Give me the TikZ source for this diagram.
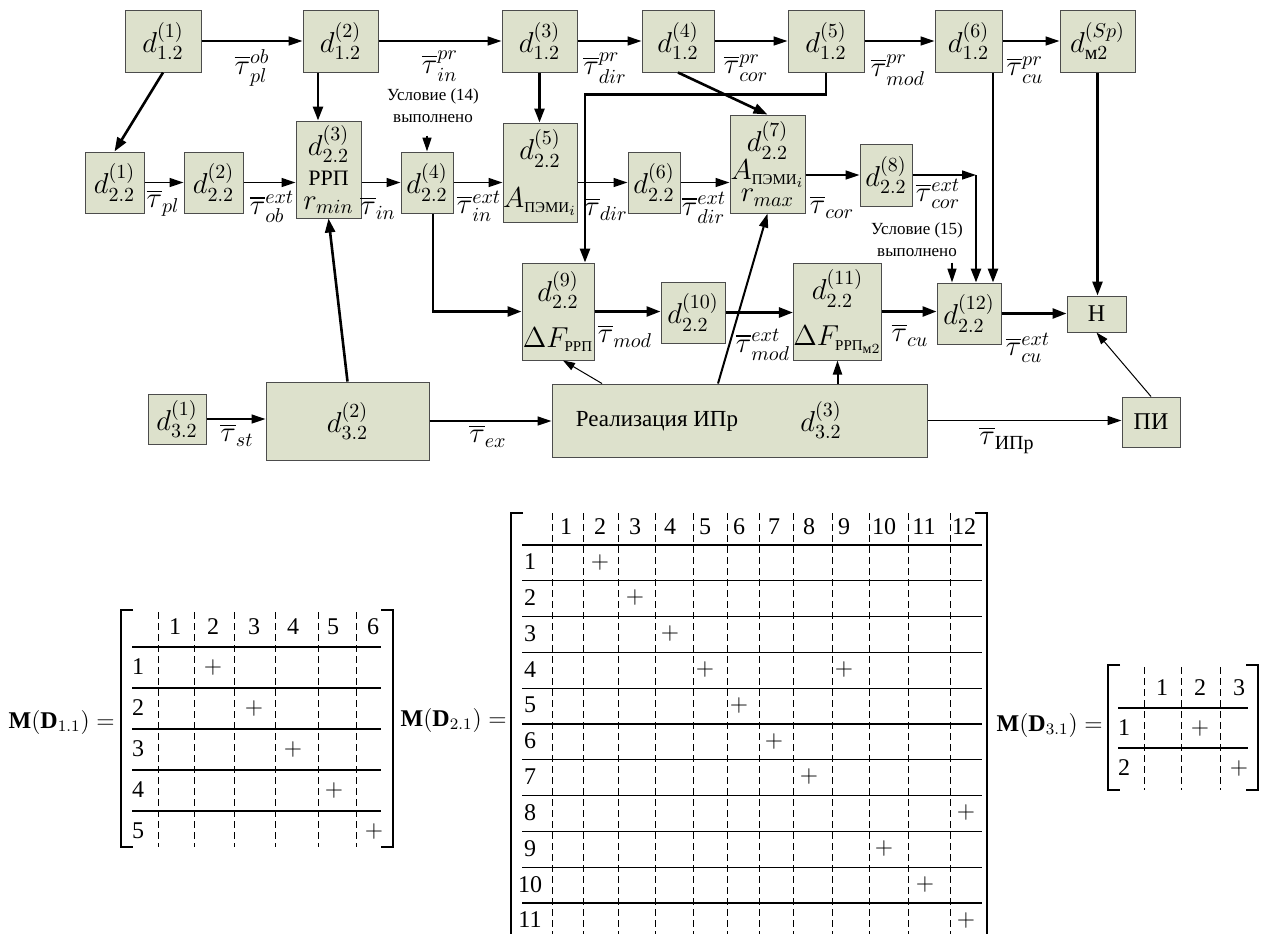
\documentclass[tikz,border=0pt]{standalone}
\usepackage{amsmath}
\usepackage{fontspec}
\setmainfont{Liberation Serif}
\usepackage{tikz}
\usetikzlibrary{%
  arrows.meta,
  positioning,
  calc}
\definecolor{boxfill}{RGB}{221,225,204}
\newcommand{\subru}[1]{\text{\fontsize{7.5}{8}\selectfont #1}}
\tikzset{
  %% Process blocks
  dbox/.style={
    rectangle, draw=black!70, fill=boxfill, line width=0.5pt,
    inner sep=0pt, align=center, font=\Large},
  %% Arc labels
  tlab/.style={font=\Large, inner sep=0pt},
  %% Plain text in blocks
  rtxt/.style={font=\fontsize{11.5}{13}\selectfont, inner sep=0pt},
  %% Condition notes
  note/.style={
    align=center, inner sep=0pt,
    font=\fontsize{8.5}{11}\selectfont},
  %% Matrix entries and names
  mnum/.style={font=\fontsize{12}{14}\selectfont, inner sep=0pt},
  mlab/.style={font=\fontsize{12}{14}\selectfont, inner sep=0pt, anchor=east},
  %% Matrix rules
  dgrid/.style={line width=0.5pt, dash pattern=on 3.5pt off 2pt},
  hgrid/.style={line width=0.6pt},
  brk/.style={line width=0.6pt},
  %% Arrows
  ptr/.style={-{Triangle[length=7pt,width=4.5pt]}, line width=0.7pt},
  bptr/.style={-{Triangle[length=7pt,width=5pt]}, line width=1.3pt},
  mptr/.style={-{Triangle[length=7pt,width=4.5pt]}, line width=1pt},
  hptr/.style={-{Triangle[length=6pt,width=4pt]}, line width=0.5pt},
}

\begin{document}
\begin{tikzpicture}[x=0.5pt, y=-0.5pt]
  \useasboundingbox (0,0) rectangle (1263,934);

  %% Level 1.2
  \node[dbox, minimum width=38pt,   minimum height=31pt] (a1)  at (163,41)    {$d_{1.2}^{(1)}$};
  \node[dbox, minimum width=37.5pt, minimum height=31pt] (a2)  at (340.5,41)  {$d_{1.2}^{(2)}$};
  \node[dbox, minimum width=37.5pt, minimum height=31pt] (a3)  at (539.5,41)  {$d_{1.2}^{(3)}$};
  \node[dbox, minimum width=36pt,   minimum height=31pt] (a4)  at (678,41)    {$d_{1.2}^{(4)}$};
  \node[dbox, minimum width=38pt,   minimum height=31pt] (a5)  at (826,41)    {$d_{1.2}^{(5)}$};
  \node[dbox, minimum width=33.5pt, minimum height=31pt] (a6)  at (968.5,41)  {$d_{1.2}^{(6)}$};
  \node[dbox, minimum width=37.5pt, minimum height=31pt] (asp) at (1097.5,41) {$d_{\text{м}2}^{(Sp)}$};

  \draw[ptr] (a1.east) -- (a2.west);
  \draw[ptr] (a2.east) -- (a3.west);
  \draw[ptr] (a3.east) -- (a4.west);
  \draw[ptr] (a4.east) -- (a5.west);
  \draw[ptr] (a5.east) -- (a6.west);
  \draw[ptr] (a6.east) -- (asp.west);

  \node[tlab] (tpl1)  at (252,68)  {$\overline{\tau}_{pl}^{ob}$};
  \node[tlab] (tin1)  at (440,66)  {$\overline{\tau}_{in}^{pr}$};
  \node[tlab] (tdir1) at (605,68)  {$\overline{\tau}_{dir}^{pr}$};
  \node[tlab] (tcor1) at (746,68)  {$\overline{\tau}_{cor}^{pr}$};
  \node[tlab] (tmod1) at (898,70)  {$\overline{\tau}_{mod}^{pr}$};
  \node[tlab] (tcu1)  at (1025,70) {$\overline{\tau}_{cu}^{pr}$};

  %% Level 2.2
  \node[dbox, minimum width=29.5pt, minimum height=30.5pt] (b1) at (114.5,182.5) {$d_{2.2}^{(1)}$};
  \node[dbox, minimum width=29.5pt, minimum height=30.5pt] (b2) at (213.5,182.5) {$d_{2.2}^{(2)}$};
  \node[dbox, minimum width=32.5pt, minimum height=48.5pt] (b3) at (328.5,169.5)
       {$d_{2.2}^{(3)}$\\[-3pt]{\fontsize{11}{12}\selectfont РРП}\\[-6pt]$r_{min}$};
  \node[dbox, minimum width=26pt,   minimum height=30.5pt] (b4) at (427,182.5)   {$d_{2.2}^{(4)}$};
  \node[dbox, minimum width=37pt,   minimum height=49.5pt] (b5) at (540,172.5)
       {$d_{2.2}^{(5)}$\\[6pt]$A_{\subru{ПЭМИ}_i}$};
  \node[dbox, minimum width=26pt,   minimum height=30.5pt] (b6) at (654,182.5)   {$d_{2.2}^{(6)}$};
  \node[dbox, minimum width=37.5pt, minimum height=49pt]   (b7) at (767.5,164)
       {$d_{2.2}^{(7)}$\\[-4pt]$A_{\subru{ПЭМИ}_i}$\\[-7pt]$r_{max}$};
  \node[dbox, minimum width=26pt,   minimum height=31pt]   (b8) at (886,175)     {$d_{2.2}^{(8)}$};

  \draw[bptr] (a1.south) -- (b1.north);
  \draw[bptr] ([xshift=-11.25pt]a2.south) -- ([xshift=-11.25pt]a2.south |- b3.north);
  \draw[bptr] (a3.south) -- (a3.south |- b5.north);
  \draw[bptr] (a4.south) -- (b7.north);

  \draw[ptr] (b1.east) -- (b2.west);
  \draw[ptr] (b2.east) -- (b2.east -| b3.west);
  \draw[ptr] (b3.east |- b4.west) -- (b4.west);
  \draw[ptr] (b4.east) -- (b4.east -| b5.west);
  \draw[ptr] (b5.east |- b6.west) -- (b6.west);
  \draw[ptr] (b6.east) -- (b6.east -| b7.west);
  \draw[ptr] (b7.east |- b8.west) -- (b8.west);

  \node[tlab] (tpl2)  at (163,203) {$\overline{\tau}_{pl}$};
  \node[tlab] (tob2)  at (272,207) {$\overline{\tau}_{ob}^{ext}$};
  \node[tlab] (tin2)  at (378,208) {$\overline{\tau}_{in}$};
  \node[tlab] (tinx2) at (479,206) {$\overline{\tau}_{in}^{ext}$};
  \node[tlab] (tdir2) at (606,209) {$\overline{\tau}_{dir}$};
  \node[tlab] (tdx2)  at (704,208) {$\overline{\tau}_{dir}^{ext}$};
  \node[tlab] (tcor2) at (832,207) {$\overline{\tau}_{cor}$};
  \node[tlab] (tcx2)  at (938,194) {$\overline{\tau}_{cor}^{ext}$};

  \node[note] (n14) at (433,106) {Условие (14)\\выполнено};
  \draw[ptr] ([yshift=8pt]b4.north) -- (b4.north);

  %% Level 2.2, lower chain
  \node[dbox, minimum width=36pt,   minimum height=48.5pt] (c9)  at (558,311.5)
       {$d_{2.2}^{(9)}$\\[5pt]$\Delta F_{\subru{РРП}}$};
  \node[dbox, minimum width=32pt,   minimum height=30.5pt] (c10) at (693,312.5)  {$d_{2.2}^{(10)}$};
  \node[dbox, minimum width=42.5pt, minimum height=48.5pt] (c11) at (837.5,311.5)
       {$d_{2.2}^{(11)}$\\[5pt]$\Delta F_{\subru{РРП}_{\text{м}2}}$};
  \node[dbox, minimum width=32pt,   minimum height=30.5pt] (c12) at (969,313.5)  {$d_{2.2}^{(12)}$};
  \node[dbox, minimum width=29.5pt, minimum height=18pt, font=\fontsize{12}{14}\selectfont]
       (hn) at (1096.5,314) {Н};

  \draw[bptr] (a5.south) -- ++(0,22) -| ([xshift=13.5pt]c9.north);
  \draw[bptr] ([xshift=3pt]b4.south) |- (c9.west);
  \draw[bptr] ([xshift=12.25pt]a6.south) -- ([xshift=12.25pt]a6.south |- c12.north);
  \coordinate (k8) at ([xshift=3.5pt]c12.north |- b8.east);
  \draw[ptr]  (b8.east) -- (k8);
  \draw[bptr] (k8) -- ([xshift=3.5pt]c12.north);
  \draw[bptr] (asp.south) -- (asp.south |- hn.north);

  \node[note] (n15) at (917,240) {Условие (15)\\выполнено};
  \draw[ptr] ([xshift=-8.5pt,yshift=10pt]c12.north) -- ([xshift=-8.5pt]c12.north);

  \draw[bptr] (c9.east)  -- (c9.east -| c10.west);
  \draw[bptr] (c10.east) -- (c10.east -| c11.west);
  \draw[bptr] (c11.east) -- (c11.east -| c12.west);
  \draw[bptr] (c12.east) -- (c12.east -| hn.west);

  \node[tlab] (tmod3) at (625,336)  {$\overline{\tau}_{mod}$};
  \node[tlab] (tmx3)  at (763,345)  {$\overline{\tau}_{mod}^{ext}$};
  \node[tlab] (tcu3)  at (910,335)  {$\overline{\tau}_{cu}$};
  \node[tlab] (tcx3)  at (1028,348) {$\overline{\tau}_{cu}^{ext}$};

  %% Level 3.2
  \node[dbox, minimum width=29pt,    minimum height=25pt]   (e1) at (177,419)     {$d_{3.2}^{(1)}$};
  \node[dbox, minimum width=81.5pt,  minimum height=39pt]   (e2) at (347.5,421)   {$d_{3.2}^{(2)}$};
  \node[dbox, minimum width=187.5pt, minimum height=36.5pt] (e3) at (739.5,420.5) {};
  \node[rtxt] (e3t) at (657,421) {Реализация ИПр};
  \node[tlab] (e3d) at (821,420) {$d_{3.2}^{(3)}$};
  \node[dbox, minimum width=29pt,    minimum height=25pt, font=\fontsize{12}{14}\selectfont]
       (pi) at (1151,422) {ПИ};

  \draw[ptr] (e1.east) -- (e1.east -| e2.west);
  \draw[ptr] (e2.east) -- (e2.east -| e3.west);
  \draw[ptr] (e3.east) -- (e3.east -| pi.west);

  \draw[bptr] (e2.north) -- (b3.south);
  \draw[hptr] ([xshift=-68.75pt]e3.north) -- ([xshift=2.5pt]c9.south);
  \draw[mptr] ([xshift=-10.75pt]e3.north) -- (b7.south);
  \draw[mptr] (c11.south |- e3.north) -- (c11.south);
  \draw[hptr] (pi.north) -- (hn.south);

  \node[tlab] (tst4) at (237,435)  {$\overline{\tau}_{st}$};
  \node[tlab] (tex4) at (488,436)  {$\overline{\tau}_{ex}$};
  \node[tlab] (tip4) at (1007,440) {$\overline{\tau}_{\text{ИПр}}$};

  %% Matrix M(D_1.1)
  \node[mlab] (m1) at (115,722) {$\mathbf{M}(\mathbf{D}_{1.1})=$};
  \draw[brk] (133,610) -| (121,847) -- (133,847);
  \draw[brk] (381,610) -| (393,847) -- (381,847);
  \foreach \x in {158,194,234,275,318,356} \draw[dgrid] (\x,612) -- (\x,847);
  \foreach \y in {647,688,729,770,811} \draw[hgrid] (132,\y) -- (381,\y);
  \foreach \n/\x in {1/175,2/213,3/254,4/293,5/333,6/373}
    \node[mnum] (m1h\n) at (\x,627) {\n};
  \foreach \n in {1,...,5}
    \node[mnum] (m1r\n) at (138,{626+41*\n}) {\n};
  \foreach \n/\x in {1/213,2/254,3/293,4/334,5/374}
    \node[mnum] (m1p\n) at (\x,{626+41*\n}) {$+$};

  %% Matrix M(D_2.1)
  \node[mlab] (m2) at (507,720) {$\mathbf{M}(\mathbf{D}_{2.1})=$};
  \draw[brk] (523,513) -| (511,934);
  \draw[brk] (975,513) -| (987,934);
  \foreach \x in {552,583,618,655,693,727,759,793,832,869,908,950}
    \draw[dgrid] (\x,513) -- (\x,934);
  \foreach \k in {0,...,10} \draw[hgrid] (522,{545+35.8*\k}) -- (982,{545+35.8*\k});
  \foreach \n/\x in {1/566,2/600,3/635,4/670,5/705,6/739,7/774,8/809,9/844,10/884,11/924,12/964}
    \node[mnum] (m2h\n) at (\x,527) {\n};
  \foreach \n in {1,...,11}
    \node[mnum] (m2r\n) at (530,{562+35.8*(\n-1)}) {\n};
  \foreach \r/\x [count=\i] in {1/600,2/635,3/670,4/705,4/844,5/739,6/774,7/809,8/966,9/884,10/925,11/966}
    \node[mnum] (m2p\i) at (\x,{562+35.8*(\r-1)}) {$+$};

  %% Matrix M(D_3.1)
  \node[mlab] (m3) at (1103,725) {$\mathbf{M}(\mathbf{D}_{3.1})=$};
  \draw[brk] (1120,665) -| (1108,790) -- (1120,790);
  \draw[brk] (1246,665) -| (1258,790) -- (1246,790);
  \foreach \x in {1144,1181,1220} \draw[dgrid] (\x,667) -- (\x,790);
  \foreach \y in {708,748} \draw[hgrid] (1118,\y) -- (1248,\y);
  \foreach \n/\x in {1/1162,2/1200,3/1239}
    \node[mnum] (m3h\n) at (\x,688) {\n};
  \foreach \n in {1,2}
    \node[mnum] (m3r\n) at (1124,{688+40*\n}) {\n};
  \node[mnum] (m3p1) at (1200,728) {$+$};
  \node[mnum] (m3p2) at (1239,768) {$+$};

\end{tikzpicture}
\end{document}
